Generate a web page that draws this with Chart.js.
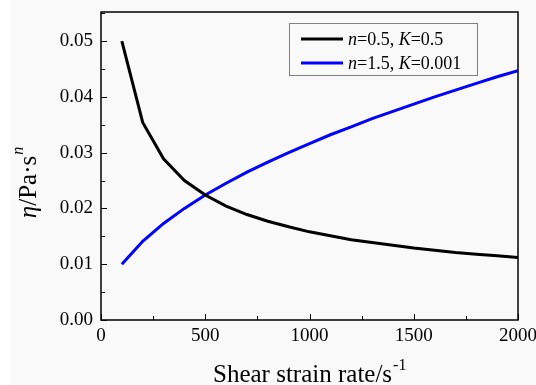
<!DOCTYPE html>
<html>
<head>
<meta charset="utf-8">
<script src="https://cdn.jsdelivr.net/npm/chart.js@4.4.1/dist/chart.umd.min.js"></script>
<style>
    html, body { margin: 0; padding: 0; background: #ffffff; }
    #wrap { position: absolute; left: 0; top: 0; width: 536px; height: 385px; }
    #strip { position: absolute; left: 11px; top: 0; width: 525px; height: 385px; background: #f9f9f9; }
</style>
</head>
<body>
<div id="strip"></div>
<div id="wrap"><canvas id="viscChart" width="536" height="385"></canvas></div>
<script>
(function () {
    var FONT = '"Liberation Serif", "Times New Roman", serif';

    // shear strain rate, s^-1
    var shearRate = [100, 200, 300, 400, 500, 600, 700, 800, 900, 1000,
        1100, 1200, 1300, 1400, 1500, 1600, 1700, 1800, 1900, 2000];

    // viscosity for n=0.5, K=0.5 (shear thinning)
    var etaThinning = [0.0500, 0.0354, 0.0289, 0.0250, 0.0224, 0.0204, 0.0189, 0.0177, 0.0167, 0.0158,
        0.0151, 0.0144, 0.0139, 0.0134, 0.0129, 0.0125, 0.0121, 0.0118, 0.0115, 0.0112];

    // viscosity for n=1.5, K=0.001 (shear thickening)
    var etaThickening = [0.0100, 0.0141, 0.0173, 0.0200, 0.0224, 0.0245, 0.0265, 0.0283, 0.0300, 0.0316,
        0.0332, 0.0346, 0.0361, 0.0374, 0.0387, 0.0400, 0.0412, 0.0424, 0.0436, 0.0447];

    var xTicks = [0, 500, 1000, 1500, 2000];
    var yTicks = [0.00, 0.01, 0.02, 0.03, 0.04, 0.05];

    // legend entries: [text, italic] runs
    var legendItems = [
        { color: '#000000', runs: [['n', true], ['=0.5, ', false], ['K', true], ['=0.5', false]] },
        { color: '#0000ff', runs: [['n', true], ['=1.5, ', false], ['K', true], ['=0.001', false]] }
    ];

    function toPoints(ys) {
        return shearRate.map(function (x, i) { return { x: x, y: ys[i] }; });
    }

    function drawRuns(ctx, runs, x, y, size) {
        runs.forEach(function (r) {
            ctx.font = (r[1] ? 'italic ' : '') + size + 'px ' + FONT;
            ctx.fillText(r[0], x, y);
            x += ctx.measureText(r[0]).width;
        });
        return x;
    }

    var framePlugin = {
        id: 'frame',
        afterDraw: function (chart) {
            var ctx = chart.ctx;
            var a = chart.chartArea;
            var xs = chart.scales.x;
            var ys = chart.scales.y;
            ctx.save();

            // inward ticks, major and minor
            ctx.strokeStyle = '#000';
            ctx.lineWidth = 1;
            ctx.beginPath();
            for (var v = 0; v <= 2000; v += 250) {
                var px = Math.round(xs.getPixelForValue(v)) + 0.5;
                var len = v % 500 === 0 ? 6 : 4;
                ctx.moveTo(px, a.bottom);
                ctx.lineTo(px, a.bottom - len);
            }
            for (var k = 0; k <= 11; k++) {
                var py = Math.round(ys.getPixelForValue(k * 0.005)) + 0.5;
                var l2 = k % 2 === 0 ? 6 : 4;
                ctx.moveTo(a.left, py);
                ctx.lineTo(a.left + l2, py);
            }
            ctx.stroke();

            // box around plot
            ctx.lineWidth = 1.5;
            ctx.strokeRect(a.left, a.top, a.right - a.left, a.bottom - a.top);

            // legend
            var lx = 289, ly = 23, lw = 188, lh = 52;
            ctx.lineWidth = 1;
            ctx.strokeStyle = '#808080';
            ctx.fillStyle = '#f9f9f9';
            ctx.fillRect(lx, ly, lw, lh);
            ctx.strokeRect(lx + 0.5, ly + 0.5, lw, lh);
            ctx.textBaseline = 'middle';
            legendItems.forEach(function (item, i) {
                var cy = ly + 16 + i * 24;
                ctx.strokeStyle = item.color;
                ctx.lineWidth = 3;
                ctx.beginPath();
                ctx.moveTo(lx + 12, cy);
                ctx.lineTo(lx + 54, cy);
                ctx.stroke();
                ctx.fillStyle = '#000';
                drawRuns(ctx, item.runs, lx + 59, cy + 1, 18);
            });

            // axis titles
            ctx.fillStyle = '#000';
            ctx.textBaseline = 'alphabetic';
            ctx.font = '25px ' + FONT;
            var xt = 'Shear strain rate/s';
            var xw = ctx.measureText(xt).width;
            var x0 = 213;
            ctx.fillText(xt, x0, 382);
            ctx.font = '16px ' + FONT;
            ctx.fillText('-1', x0 + xw + 1, 370);

            ctx.translate(36, 183);
            ctx.rotate(-Math.PI / 2);
            var size = 25;
            ctx.font = 'italic ' + size + 'px ' + FONT;
            var w1 = ctx.measureText('\u03b7').width;
            ctx.font = size + 'px ' + FONT;
            var w2 = ctx.measureText('/Pa\u00b7s').width;
            ctx.font = 'italic 16px ' + FONT;
            var w3 = ctx.measureText('n').width;
            var sx = -(w1 + w2 + w3) / 2;
            ctx.font = 'italic ' + size + 'px ' + FONT;
            ctx.fillText('\u03b7', sx, 0);
            ctx.font = size + 'px ' + FONT;
            ctx.fillText('/Pa\u00b7s', sx + w1, 0);
            ctx.font = 'italic 16px ' + FONT;
            ctx.fillText('n', sx + w1 + w2 + 1, -13);

            ctx.restore();
        }
    };

    new Chart(document.getElementById('viscChart'), {
        type: 'line',
        data: {
            datasets: [
                {
                    label: 'n=0.5, K=0.5',
                    data: toPoints(etaThinning),
                    borderColor: '#000000',
                    borderWidth: 3,
                    pointRadius: 0,
                    tension: 0,
                    fill: false
                },
                {
                    label: 'n=1.5, K=0.001',
                    data: toPoints(etaThickening),
                    borderColor: '#0000ff',
                    borderWidth: 3,
                    pointRadius: 0,
                    tension: 0,
                    fill: false
                }
            ]
        },
        options: {
            responsive: false,
            animation: false,
            layout: { padding: { left: 0, top: 12, right: 18, bottom: 0 } },
            plugins: {
                legend: { display: false },
                tooltip: { enabled: false }
            },
            scales: {
                x: {
                    type: 'linear',
                    min: 0,
                    max: 2000,
                    afterFit: function (s) {
                        s.height = 65;
                        s.paddingLeft = 0;
                        s.paddingRight = 0;
                    },
                    afterBuildTicks: function (s) {
                        s.ticks = xTicks.map(function (v) { return { value: v }; });
                    },
                    grid: { display: false, drawTicks: false },
                    border: { display: false },
                    ticks: {
                        padding: 5,
                        color: '#000',
                        font: { family: FONT, size: 19 },
                        maxRotation: 0,
                        callback: function (v) { return String(v); }
                    }
                },
                y: {
                    type: 'linear',
                    min: 0,
                    max: 0.0552,
                    afterFit: function (s) {
                        s.width = 101;
                        s.paddingTop = 0;
                        s.paddingBottom = 0;
                    },
                    afterBuildTicks: function (s) {
                        s.ticks = yTicks.map(function (v) { return { value: v }; });
                    },
                    grid: { display: false, drawTicks: false },
                    border: { display: false },
                    ticks: {
                        padding: 8,
                        color: '#000',
                        font: { family: FONT, size: 19 },
                        callback: function (v) { return Number(v).toFixed(2); }
                    }
                }
            }
        },
        plugins: [framePlugin]
    });
})();
</script>
</body>
</html>
